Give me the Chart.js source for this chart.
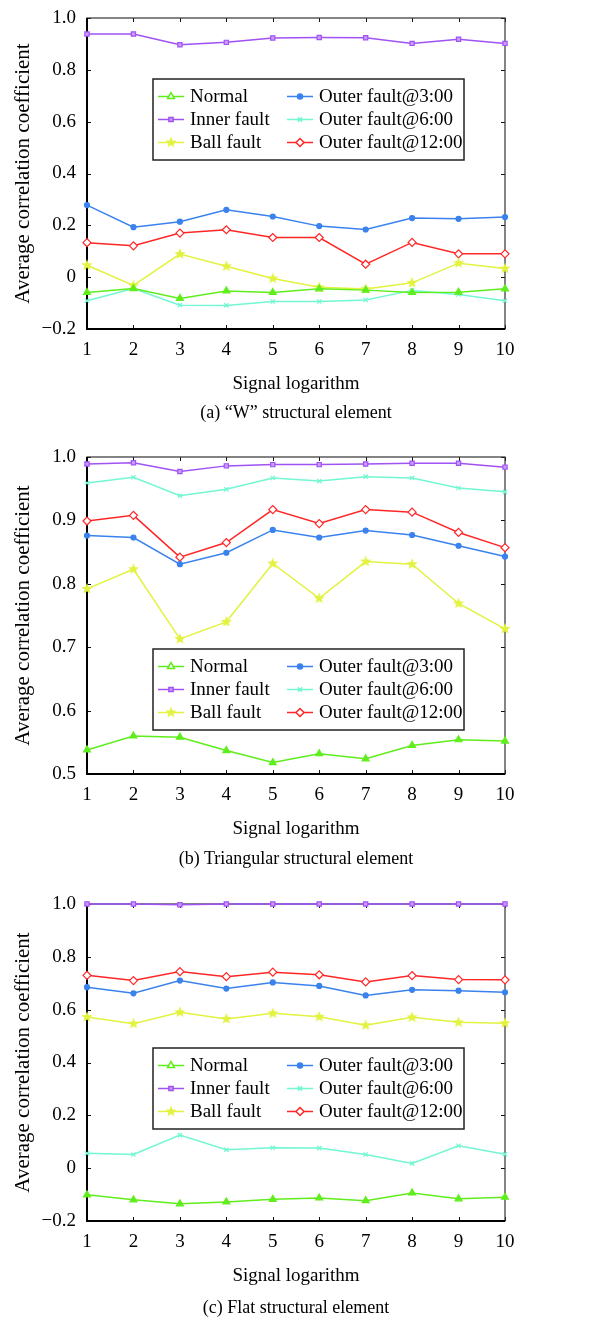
<!DOCTYPE html>
<html>
<head>
<meta charset="utf-8">
<script src="https://cdn.jsdelivr.net/npm/chart.js@4/dist/chart.umd.min.js"></script>
<style>
  body { margin: 0; background: #fff; }
  #page { position: relative; width: 603px; height: 1319px; }
  .panel { position: absolute; left: 0; width: 603px; }
  .caption { position: absolute; left: 87px; width: 418px; text-align: center;
             font: 18px "Liberation Serif", "Times New Roman", serif; color: #000; }
</style>
</head>
<body>
<div id="page">
  <div class="panel" style="top:0px"><canvas id="chartW" width="603" height="430"></canvas></div>
  <div class="caption" style="top:402px">(a) “W” structural element</div>
  <div class="panel" style="top:430px"><canvas id="chartTri" width="603" height="445"></canvas></div>
  <div class="caption" style="top:848px">(b) Triangular structural element</div>
  <div class="panel" style="top:875px"><canvas id="chartFlat" width="603" height="444"></canvas></div>
  <div class="caption" style="top:1297px">(c) Flat structural element</div>
</div>
<script>
const xLabels = ['1', '2', '3', '4', '5', '6', '7', '8', '9', '10'];
const seriesNames = ['Normal', 'Inner fault', 'Ball fault', 'Outer fault@3:00', 'Outer fault@6:00', 'Outer fault@12:00'];

// "W" structural element
const wNormal  = [-0.059, -0.044, -0.082, -0.053, -0.059, -0.045, -0.050, -0.059, -0.058, -0.045];
const wInner   = [0.938, 0.938, 0.897, 0.906, 0.923, 0.925, 0.924, 0.902, 0.918, 0.902];
const wBall    = [0.046, -0.032, 0.089, 0.042, -0.005, -0.039, -0.046, -0.022, 0.054, 0.033];
const wOuter3  = [0.278, 0.193, 0.214, 0.260, 0.234, 0.197, 0.184, 0.228, 0.225, 0.232];
const wOuter6  = [-0.091, -0.044, -0.108, -0.109, -0.094, -0.094, -0.088, -0.051, -0.067, -0.091];
const wOuter12 = [0.133, 0.121, 0.170, 0.183, 0.153, 0.153, 0.050, 0.134, 0.090, 0.090];

// triangular structural element
const triNormal  = [0.538, 0.560, 0.558, 0.537, 0.518, 0.532, 0.524, 0.545, 0.554, 0.552];
const triInner   = [0.989, 0.991, 0.977, 0.986, 0.988, 0.988, 0.989, 0.990, 0.990, 0.984];
const triBall    = [0.792, 0.823, 0.713, 0.740, 0.832, 0.777, 0.835, 0.831, 0.769, 0.729];
const triOuter3  = [0.876, 0.873, 0.831, 0.849, 0.885, 0.873, 0.884, 0.877, 0.860, 0.843];
const triOuter6  = [0.959, 0.968, 0.939, 0.949, 0.967, 0.962, 0.969, 0.967, 0.951, 0.945];
const triOuter12 = [0.899, 0.908, 0.842, 0.865, 0.917, 0.895, 0.917, 0.913, 0.881, 0.857];

// flat structural element
const flatNormal  = [-0.101, -0.120, -0.135, -0.128, -0.118, -0.113, -0.123, -0.094, -0.116, -0.110];
const flatInner   = [1.000, 1.000, 0.997, 1.000, 1.000, 1.000, 1.000, 1.000, 1.000, 1.000];
const flatBall    = [0.572, 0.547, 0.590, 0.565, 0.586, 0.573, 0.541, 0.571, 0.552, 0.549];
const flatOuter3  = [0.685, 0.662, 0.710, 0.680, 0.703, 0.690, 0.654, 0.675, 0.672, 0.666];
const flatOuter6  = [0.056, 0.052, 0.125, 0.070, 0.077, 0.076, 0.052, 0.018, 0.085, 0.053];
const flatOuter12 = [0.730, 0.710, 0.744, 0.725, 0.742, 0.732, 0.705, 0.729, 0.714, 0.713];

const SERIF = '"Liberation Serif", "Times New Roman", serif';
const colors = ['#5fee1c', '#a052f5', '#e2f23e', '#3a82ee', '#72f7d2', '#ff2626'];

// small filled five-point star used as a marker
function makeStar(color, r) {
    const c = document.createElement('canvas');
    const s = Math.ceil(r * 2 + 2);
    c.width = s; c.height = s;
    const g = c.getContext('2d');
    g.beginPath();
    for (let i = 0; i < 10; i++) {
        const rad = i % 2 === 0 ? r : r * 0.42;
        const a = -Math.PI / 2 + i * Math.PI / 5;
        const px = s / 2 + rad * Math.cos(a);
        const py = s / 2 + rad * Math.sin(a);
        i === 0 ? g.moveTo(px, py) : g.lineTo(px, py);
    }
    g.closePath();
    g.fillStyle = color;
    g.fill();
    return c;
}
const starMarker = makeStar(colors[2], 6);

const markerStyles = [
    { pointStyle: 'triangle', pointRadius: 4, pointBackgroundColor: colors[0], legendFill: '#fff' },
    { pointStyle: 'rect', pointRadius: 3, pointBackgroundColor: '#c99cff' },
    { pointStyle: starMarker, pointRadius: 6, pointBackgroundColor: colors[2] },
    { pointStyle: 'circle', pointRadius: 2.5, pointBackgroundColor: colors[3] },
    { pointStyle: 'crossRot', pointRadius: 3, pointBackgroundColor: colors[4] },
    { pointStyle: 'rectRot', pointRadius: 4, pointBackgroundColor: '#fff' }
];

function fmtTick(v) {
    if (Math.abs(v) < 1e-9) return '0';
    return v.toFixed(1).replace('-', '\u2212');
}

// frame with inward tick marks on all four sides
const framePlugin = {
    id: 'frame',
    beforeDatasetsDraw(chart) {
        const { ctx, chartArea: a, scales } = chart;
        const len = 4;
        ctx.save();
        ctx.strokeStyle = '#111';
        ctx.lineWidth = 1;
        ctx.beginPath();
        scales.x.ticks.forEach((t, i) => {
            const px = Math.round(scales.x.getPixelForTick(i)) + 0.5;
            ctx.moveTo(px, a.bottom); ctx.lineTo(px, a.bottom - len);
            ctx.moveTo(px, a.top); ctx.lineTo(px, a.top + len);
        });
        scales.y.ticks.forEach((t, i) => {
            const py = Math.round(scales.y.getPixelForTick(i)) + 0.5;
            ctx.moveTo(a.left, py); ctx.lineTo(a.left + len, py);
            ctx.moveTo(a.right, py); ctx.lineTo(a.right - len, py);
        });
        ctx.stroke();
        ctx.lineWidth = 1.2;
        ctx.strokeStyle = '#333';
        ctx.strokeRect(a.left, a.top, a.right - a.left, a.bottom - a.top);
        ctx.lineWidth = 2;
        ctx.strokeStyle = '#000';
        ctx.beginPath();
        ctx.moveTo(a.left, a.top);
        ctx.lineTo(a.left, a.bottom);
        ctx.lineTo(a.right, a.bottom);
        ctx.stroke();
        ctx.restore();
    }
};

// two-column boxed legend placed inside the plot
const boxLegendPlugin = {
    id: 'boxLegend',
    afterDraw(chart, args, opts) {
        const { ctx } = chart;
        const x0 = opts.x, y0 = opts.y, w = 311, h = 81;
        ctx.save();
        ctx.fillStyle = '#fff';
        ctx.fillRect(x0, y0, w, h);
        ctx.strokeStyle = '#222';
        ctx.lineWidth = 1.5;
        ctx.strokeRect(x0, y0, w, h);
        ctx.font = '19px ' + SERIF;
        ctx.textBaseline = 'middle';
        chart.data.datasets.forEach((ds, i) => {
            const col = Math.floor(i / 3), row = i % 3;
            const lx = x0 + (col === 0 ? 5 : 134);
            const ly = y0 + 17.5 + row * 23;
            ctx.strokeStyle = ds.borderColor;
            ctx.lineWidth = 1.5;
            ctx.beginPath();
            ctx.moveTo(lx, ly); ctx.lineTo(lx + 26, ly);
            ctx.stroke();
            ctx.fillStyle = ds.legendFill || ds.pointBackgroundColor;
            Chart.helpers.drawPoint(ctx, {
                pointStyle: ds.pointStyle, radius: ds.pointRadius, rotation: 0, borderWidth: 1.2
            }, lx + 13, ly);
            ctx.fillStyle = '#000';
            ctx.fillText(ds.label, lx + 32, ly + 1);
        });
        ctx.restore();
    }
};

function makeChart(id, series, yMin, yMax, step, pad, legendPos) {
    const datasets = series.map((vals, i) => Object.assign({
        label: seriesNames[i],
        data: vals,
        borderColor: colors[i],
        borderWidth: 1.5,
        pointBorderColor: colors[i],
        pointBorderWidth: 1.2,
        tension: 0,
        clip: false
    }, markerStyles[i]));

    return new Chart(document.getElementById(id), {
        type: 'line',
        data: { labels: xLabels, datasets: datasets },
        options: {
            responsive: false,
            animation: false,
            layout: { padding: { top: pad.top, bottom: pad.bottom, left: 0, right: 98 } },
            plugins: {
                legend: { display: false },
                tooltip: { enabled: false },
                boxLegend: legendPos
            },
            scales: {
                x: {
                    type: 'category',
                    offset: false,
                    grid: { display: false, drawTicks: false },
                    border: { display: false },
                    ticks: { color: '#000', padding: 10, font: { family: SERIF, size: 19 } },
                    title: { display: true, text: 'Signal logarithm', color: '#000',
                             padding: { bottom: 5 }, font: { family: SERIF, size: 19 } },
                    afterFit(scale) {
                        scale.height = 71;
                        scale.paddingLeft = 0;
                        scale.paddingRight = 0;
                    }
                },
                y: {
                    min: yMin,
                    max: yMax,
                    grid: { display: false, drawTicks: false },
                    border: { display: false },
                    ticks: { stepSize: step, color: '#000', padding: 11,
                             font: { family: SERIF, size: 19 }, callback: fmtTick },
                    title: { display: true, text: 'Average correlation coefficient', color: '#000',
                             padding: { top: 11 }, font: { family: SERIF, size: 21 } },
                    afterFit(scale) {
                        scale.width = 87;
                        scale.paddingTop = 0;
                        scale.paddingBottom = 0;
                    }
                }
            }
        },
        plugins: [framePlugin, boxLegendPlugin]
    });
}

makeChart('chartW', [wNormal, wInner, wBall, wOuter3, wOuter6, wOuter12],
    -0.2, 1.0, 0.2, { top: 18, bottom: 30 }, { x: 153, y: 79 });
makeChart('chartTri', [triNormal, triInner, triBall, triOuter3, triOuter6, triOuter12],
    0.5, 1.0, 0.1, { top: 27, bottom: 30 }, { x: 153, y: 219 });
makeChart('chartFlat', [flatNormal, flatInner, flatBall, flatOuter3, flatOuter6, flatOuter12],
    -0.2, 1.0, 0.2, { top: 29, bottom: 27 }, { x: 153, y: 173 });
</script>
</body>
</html>
